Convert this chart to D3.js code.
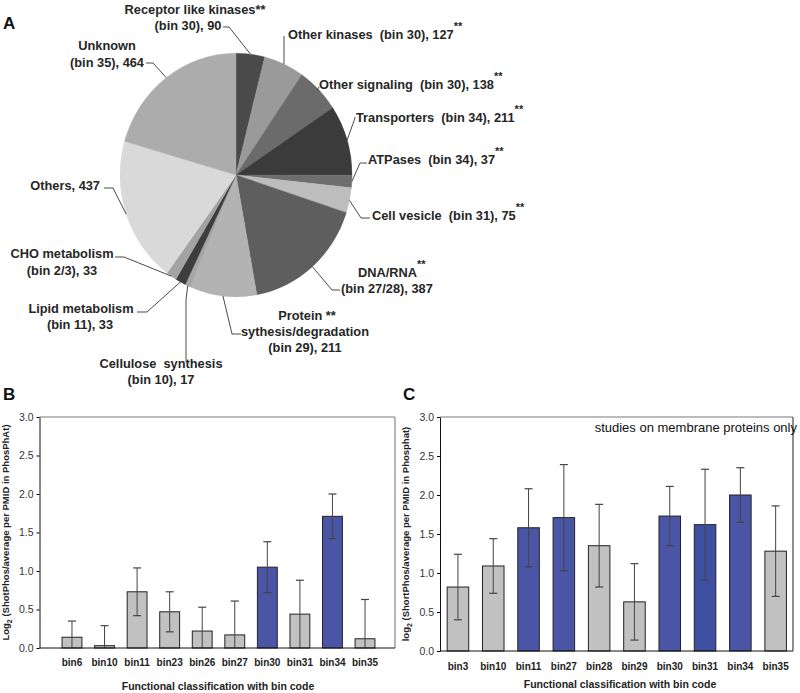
<!DOCTYPE html>
<html>
<head>
<meta charset="utf-8">
<script src="https://cdn.jsdelivr.net/npm/d3@7"></script>
<style>
body { margin: 0; background: #fff; }
svg text { font-family: "Liberation Sans", Arial, sans-serif; }
</style>
</head>
<body>
<script>
//Global sizes
var W = 800;
var H = 693;

//Panel A data (slices clockwise from 12 o'clock)
var pieNames = ["Receptor like kinases", "Other kinases", "Other signaling", "Transporters",
  "ATPases", "Cell vesicle", "DNA/RNA", "Protein|sythesis/degradation", "Cellulose  synthesis",
  "Lipid metabolism", "CHO metabolism", "Others", "Unknown"];
var pieBins = ["bin 30", "bin 30", "bin 30", "bin 34", "bin 34", "bin 31", "bin 27/28",
  "bin 29", "bin 10", "bin 11", "bin 2/3", "", "bin 35"];
var pieValues = [90, 127, 138, 211, 37, 75, 387, 211, 17, 33, 33, 437, 464];
var pieStars = ["inline", "sup", "sup", "sup", "sup", "sup", "sup", "inline", "", "", "", "", ""];

//Panel B data
var binsB = ["bin6", "bin10", "bin11", "bin23", "bin26", "bin27", "bin30", "bin31", "bin34", "bin35"];
var meanB = [0.14, 0.03, 0.73, 0.47, 0.22, 0.17, 1.05, 0.44, 1.71, 0.12];
var errB = [0.21, 0.26, 0.31, 0.26, 0.31, 0.44, 0.33, 0.44, 0.29, 0.51];
var blueB = ["bin30", "bin34"];

//Panel C data
var binsC = ["bin3", "bin10", "bin11", "bin27", "bin28", "bin29", "bin30", "bin31", "bin34", "bin35"];
var meanC = [0.82, 1.09, 1.58, 1.71, 1.35, 0.63, 1.73, 1.62, 2.00, 1.28];
var errC = [0.42, 0.35, 0.50, 0.68, 0.53, 0.49, 0.38, 0.71, 0.35, 0.58];
var blueC = ["bin11", "bin27", "bin30", "bin31", "bin34"];

var yTicks = [0, 0.5, 1.0, 1.5, 2.0, 2.5, 3.0];

//Look of the pie
var sliceColors = ["#4a4a4a", "#9a9a9a", "#6b6b6b", "#3b3b3b", "#6e6e6e", "#bdbdbd", "#5e5e5e",
  "#b3b3b3", "#a6a6a6", "#3d3d3d", "#a3a3a3", "#d9d9d9", "#acacac"];
var PieCX = 236, PieCY = 175, PieR = 116, PieSY = 1.05;

//Label placement: one entry per line [x, baseline, anchor], then leader knee and end
var labelLayout = [
  { lines: [[195, 14, "middle"], [188, 30, "middle"]], knee: [229, 27], end: [223, 27] },
  { one: true, lines: [[288, 39, "start"]], knee: [284, 40], end: [284, 36] },
  { one: true, lines: [[319, 89, "start"]], knee: [317, 90], end: [319, 87] },
  { one: true, lines: [[356, 122, "start"]], knee: [355, 118], end: [355, 117] },
  { one: true, lines: [[368, 164, "start"]], knee: [360, 163], end: [367, 163] },
  { one: true, lines: [[372, 220, "start"]], knee: [361, 218], end: [370, 218] },
  { lines: [[358, 277, "start"], [341, 293, "start"]], knee: [332, 290], end: [340, 290] },
  { lines: [[307, 320, "middle"], [305, 336, "middle"], [305, 352, "middle"]], knee: [232, 334], end: [241, 334] },
  { lines: [[161, 368, "middle"], [161, 384, "middle"]], knee: [186, 300], end: [186, 361] },
  { lines: [[81, 313, "middle"], [80, 329, "middle"]], knee: [147, 312], end: [137, 312] },
  { lines: [[62, 258, "middle"], [62, 275, "middle"]], knee: [124, 257], end: [115, 257] },
  { lines: [[100, 190, "end"]], knee: [113, 188], end: [104, 188] },
  { lines: [[107, 50, "middle"], [107, 67, "middle"]], knee: [153, 63], end: [146, 63] }
];

function main() {
  var svg = d3.select("body").append("svg")
    .attr("width", W)
    .attr("height", H);

  //Panel letters
  [["A", 3, 29], ["B", 3, 400], ["C", 403, 400]].forEach(function(p) {
    svg.append("text").text(p[0])
      .attr("x", p[1]).attr("y", p[2])
      .attr("font-size", "17px").attr("font-weight", "bold").attr("fill", "#111");
  });

  drawPie(svg);

  drawBars(svg, {
    bins: binsB, mean: meanB, err: errB, blue: blueB,
    left: 39.5, right: 395, top: 417, bottom: 648,
    bandRange: [55.7, 381.3], sideColor: "#7a7a7a",
    yTitle: ["Log", "2", " (ShotPhos/average per PMID in PhosPhAt)"],
    yTitleX: 9, xLabelY: 666, xTitleY: 690, xTitleX: 218
  });

  drawBars(svg, {
    bins: binsC, mean: meanC, err: errC, blue: blueC,
    left: 440, right: 793, top: 417, bottom: 651,
    bandRange: [440.3, 793.3], sideColor: "#333",
    yTitle: ["log", "2", " (ShortPhos/average per PMID in Phosphat)"],
    yTitleX: 409, xLabelY: 670, xTitleY: 688, xTitleX: 620,
    note: "studies on membrane proteins only"
  });
}

function labelLines(i) {
  //Builds the text lines of one pie label from the data
  var lay = labelLayout[i];
  var valuePart = pieBins[i] ? "(" + pieBins[i] + "), " + pieValues[i] : "";
  if (lay.one) {
    return [pieNames[i] + "  " + valuePart];
  }
  if (!pieBins[i]) {
    return [pieNames[i] + ", " + pieValues[i]];
  }
  return pieNames[i].split("|").concat([valuePart]);
}

function drawPie(svg) {
  var pie = d3.pie().sort(null).value(function(d) { return d; });
  var arcs = pie(pieValues);
  var arc = d3.arc().innerRadius(0).outerRadius(PieR);

  var g = svg.append("g")
    .attr("transform", "translate(" + PieCX + "," + PieCY + ") scale(1," + PieSY + ")");

  g.selectAll("path")
    .data(arcs)
    .enter()
    .append("path")
    .attr("d", arc)
    .attr("fill", function(d, i) { return sliceColors[i]; })
    .attr("stroke", function(d, i) { return sliceColors[i]; })
    .attr("stroke-width", 0.4);

  var leader = d3.line();

  arcs.forEach(function(d, i) {
    var lay = labelLayout[i];
    var mid = (d.startAngle + d.endAngle) / 2;
    var edge = [PieCX + PieR * Math.sin(mid), PieCY - PieR * PieSY * Math.cos(mid)];

    svg.append("path")
      .attr("d", leader([edge, lay.knee, lay.end]))
      .attr("fill", "none")
      .attr("stroke", "#4a4a4a")
      .attr("stroke-width", 1);

    var lines = labelLines(i);
    lines.forEach(function(txt, j) {
      var pos = lay.lines[j];
      var t = svg.append("text")
        .attr("x", pos[0])
        .attr("y", pos[1])
        .attr("text-anchor", pos[2])
        .attr("font-size", "12.8px")
        .attr("font-weight", "bold")
        .attr("fill", "#262626")
        .style("white-space", "pre");
      t.append("tspan").text(txt);
      if (j == 0 && pieStars[i] == "inline") {
        t.append("tspan").text(i == 7 ? " **" : "**");
      }
      if (j == 0 && pieStars[i] == "sup") {
        t.append("tspan").attr("dy", -9).attr("font-size", "11px").text("**");
      }
    });
  });
}

function drawBars(svg, o) {
  //One bar chart panel with error bars
  var x = d3.scaleBand()
    .domain(o.bins)
    .range(o.bandRange)
    .paddingInner(0.39)
    .paddingOuter(0.195);
  var y = d3.scaleLinear().domain([0, 3]).range([o.bottom, o.top]);

  var g = svg.append("g");

  //Frame: grey top border, right border
  g.append("line")
    .attr("x1", o.left).attr("x2", o.right)
    .attr("y1", o.top).attr("y2", o.top)
    .attr("stroke", "#7a7a7a")
    .attr("stroke-width", 1.2);
  g.append("line")
    .attr("x1", o.right).attr("x2", o.right)
    .attr("y1", o.top).attr("y2", o.bottom)
    .attr("stroke", o.sideColor)
    .attr("stroke-width", 1.1);

  var data = o.bins.map(function(b, i) {
    return { key: b, value: o.mean[i], err: o.err[i] };
  });

  g.selectAll("rect")
    .data(data)
    .enter()
    .append("rect")
    .attr("x", function(d) { return x(d.key); })
    .attr("y", function(d) { return y(d.value); })
    .attr("width", x.bandwidth())
    .attr("height", function(d) { return y(0) - y(d.value); })
    .attr("fill", function(d) {
      if (o.blue.indexOf(d.key) < 0) return "#c1c1c1";
      return d.key == "bin31" ? "#3f50a3" : "#4b55a6";
    })
    .attr("stroke", "#222")
    .attr("stroke-width", 1);

  //Error bars, clipped at zero
  var capW = 8;
  data.forEach(function(d) {
    var cx = x(d.key) + x.bandwidth() / 2;
    var hi = d.value + d.err;
    var lo = Math.max(0, d.value - d.err);
    g.append("line")
      .attr("x1", cx).attr("x2", cx)
      .attr("y1", y(hi)).attr("y2", y(lo))
      .attr("stroke", "#444").attr("stroke-width", 1);
    g.append("line")
      .attr("x1", cx - capW / 2).attr("x2", cx + capW / 2)
      .attr("y1", y(hi)).attr("y2", y(hi))
      .attr("stroke", "#444").attr("stroke-width", 1.2);
    if (d.value - d.err > 0.02) {
      g.append("line")
        .attr("x1", cx - capW / 2).attr("x2", cx + capW / 2)
        .attr("y1", y(lo)).attr("y2", y(lo))
        .attr("stroke", "#444").attr("stroke-width", 1.2);
    }
  });

  //Axes
  var yAxis = d3.axisLeft(y)
    .tickValues(yTicks)
    .tickFormat(d3.format(".1f"))
    .tickSize(3)
    .tickSizeOuter(0);
  var ya = g.append("g")
    .attr("transform", "translate(" + o.left + ",0)")
    .call(yAxis);
  ya.selectAll("text")
    .attr("font-size", "10.5px")
    .attr("fill", "#333")
    .attr("font-family", "Liberation Sans, Arial, sans-serif");
  ya.select(".domain").attr("stroke", "#111");

  g.append("line")
    .attr("x1", o.left).attr("x2", o.right)
    .attr("y1", o.bottom).attr("y2", o.bottom)
    .attr("stroke", "#111").attr("stroke-width", 1);

  g.selectAll("text.bin")
    .data(o.bins)
    .enter()
    .append("text")
    .attr("class", "bin")
    .text(function(d) { return d; })
    .attr("x", function(d) { return x(d) + x.bandwidth() / 2; })
    .attr("y", o.xLabelY)
    .attr("text-anchor", "middle")
    .attr("font-size", "10px")
    .attr("font-weight", "bold")
    .attr("fill", "#222");

  g.append("text")
    .text("Functional classification with bin code")
    .attr("x", o.xTitleX)
    .attr("y", o.xTitleY)
    .attr("text-anchor", "middle")
    .attr("font-size", "10.5px")
    .attr("font-weight", "bold")
    .attr("fill", "#222");

  //Rotated y title with subscript
  var yt = g.append("text")
    .attr("transform", "translate(" + o.yTitleX + "," + ((o.top + o.bottom) / 2) + ") rotate(-90)")
    .attr("text-anchor", "middle")
    .attr("font-size", "9.5px")
    .attr("font-weight", "bold")
    .attr("fill", "#222");
  yt.append("tspan").text(o.yTitle[0]);
  yt.append("tspan").attr("dy", 3).attr("font-size", "7px").text(o.yTitle[1]);
  yt.append("tspan").attr("dy", -3).text(o.yTitle[2]);

  if (o.note) {
    g.append("text")
      .text(o.note)
      .attr("x", o.right + 4)
      .attr("y", o.top + 15)
      .attr("text-anchor", "end")
      .attr("font-size", "13px")
      .attr("fill", "#111");
  }
}

main();
</script>
</body>
</html>
